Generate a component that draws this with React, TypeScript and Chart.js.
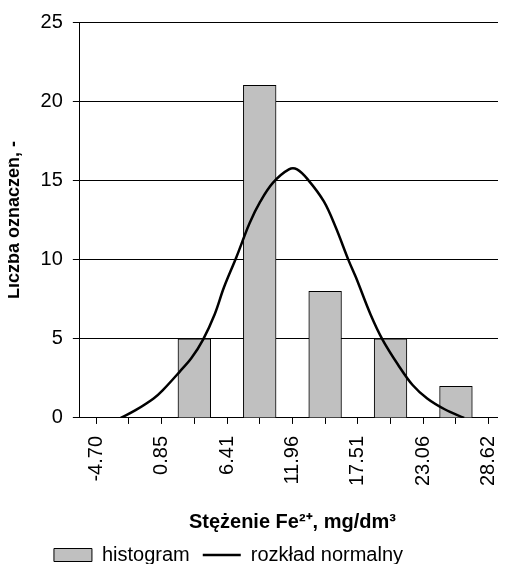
import React, { useEffect, useRef } from 'react';
import { Chart, registerables } from 'chart.js';

Chart.register(...registerables);

// Category (class) labels along the x axis – only every other one is printed
const categories = ['-4.70', '-1.92', '0.85', '3.63', '6.41', '9.18', '11.96', '14.73', '17.51', '20.29', '23.06', '25.84', '28.62'];
// Histogram counts per category (null = no bar)
const histogram = [null, null, null, 5, null, 21, null, 8, null, 5, null, 2, null];
// Normal distribution curve (concentration, count)
const curveX = [-4.70, -3.26, -1.51, -0.61, 1.03, 2.16, 3.29, 4.42, 5.32, 6.53, 7.80, 8.85, 10.06, 11.62, 12.41, 13.46, 15.01, 16.14, 17.41, 18.12, 19.53, 20.70, 22.21, 23.62, 25.04, 26.73, 28.62];
const curveY = [0, 0.49, 1.23, 1.76, 2.93, 3.78, 4.95, 6.55, 8.25, 10.16, 12.29, 13.67, 14.84, 15.69, 15.69, 15.05, 13.67, 12.07, 9.95, 8.88, 6.55, 4.95, 3.36, 2.08, 1.23, 0.55, 0];
const yMin = 0;
const yMax = 25;
const yStep = 5;

const FONT = "'Liberation Sans', Arial, sans-serif";

const noPad = (scale: any) => {
  scale.paddingLeft = 0;
  scale.paddingRight = 0;
};

export default function App() {
  const ref = useRef<HTMLCanvasElement | null>(null);

  useEffect(() => {
    if (!ref.current) return;
    const first = parseFloat(categories[0]);
    const last = parseFloat(categories[categories.length - 1]);
    const step = (last - first) / (categories.length - 1);

    const frame = {
      id: 'frame',
      afterDatasetsDraw(chart: any) {
        const { ctx, chartArea: a } = chart;
        ctx.save();
        ctx.strokeStyle = '#000';
        ctx.lineWidth = 1;
        ctx.beginPath();
        ctx.moveTo(a.left, Math.round(a.top) + 0.5);
        ctx.lineTo(Math.round(a.right) - 0.5, Math.round(a.top) + 0.5);
        ctx.lineTo(Math.round(a.right) - 0.5, a.bottom);
        ctx.stroke();
        ctx.restore();
      },
    };

    const chart = new Chart(ref.current, {
      type: 'bar',
      data: {
        labels: categories,
        datasets: [
          {
            type: 'bar',
            label: 'histogram',
            data: histogram as any,
            backgroundColor: '#c0c0c0',
            borderColor: '#000',
            borderWidth: 1,
            barPercentage: 1,
            categoryPercentage: 1,
            grouped: false,
            xAxisID: 'x',
            yAxisID: 'y',
            order: 2,
          },
          {
            type: 'line',
            label: 'rozkład normalny',
            data: curveX.map((x, i) => ({ x, y: curveY[i] })) as any,
            borderColor: '#000',
            backgroundColor: '#000',
            borderWidth: 2.5,
            pointRadius: 0,
            pointHoverRadius: 0,
            tension: 0.35,
            xAxisID: 'x2',
            yAxisID: 'y',
            order: 1,
          },
        ],
      },
      options: {
        animation: false,
        responsive: false,
        layout: { autoPadding: false, padding: { top: 18, right: 1, left: 3, bottom: 0 } },
        plugins: {
          tooltip: { enabled: false },
          legend: {
            position: 'bottom',
            maxHeight: 30,
            labels: {
              color: '#000',
              font: { family: FONT, size: 20 },
              usePointStyle: true,
              pointStyleWidth: 38,
              boxHeight: 13,
              padding: 3,
              generateLabels: (c: any) => {
                const items = c.data.datasets.map((ds: any, i: number) => ({
                  // an en space after the first label reproduces the gap between the two entries
                  text: i === 0 ? ds.label + '\u2002' : ds.label,
                  fillStyle: i === 0 ? '#c0c0c0' : '#000',
                  strokeStyle: '#000',
                  lineWidth: i === 0 ? 1 : 2.5,
                  pointStyle: i === 0 ? 'rect' : 'line',
                  datasetIndex: i,
                  hidden: false,
                  fontColor: '#000',
                }));
                // invisible spacer keeps the visible items left of centre, as in the original
                items.push({
                  text: '',
                  fillStyle: 'rgba(0,0,0,0)',
                  strokeStyle: 'rgba(0,0,0,0)',
                  lineWidth: 0,
                  pointStyle: 'line',
                  hidden: false,
                  fontColor: 'rgba(0,0,0,0)',
                });
                return items;
              },
            },
          },
        },
        scales: {
          x: {
            type: 'category',
            offset: true,
            grid: { offset: false, drawOnChartArea: false, drawTicks: true, tickLength: 6, color: '#000' },
            border: { color: '#000', width: 1 },
            ticks: {
              autoSkip: false,
              maxRotation: 90,
              minRotation: 90,
              padding: 12,
              color: '#000',
              font: { family: FONT, size: 20 },
              callback: (_v: any, i: number) => (i % 2 === 0 ? categories[i] : ''),
            },
            title: {
              display: true,
              text: 'Stężenie Fe²⁺, mg/dm³',
              color: '#000',
              font: { family: FONT, size: 20, weight: 'bold' },
              padding: { top: 12, bottom: 8 },
            },
            afterFit: noPad,
          },
          x2: {
            type: 'linear',
            display: false,
            min: first - step / 2,
            max: last + step / 2,
            ticks: { display: false },
            afterFit: noPad,
          },
          y: {
            min: yMin,
            max: yMax,
            ticks: { stepSize: yStep, color: '#000', padding: 10, font: { family: FONT, size: 20 } },
            grid: { color: '#000', tickLength: 7 },
            border: { color: '#000', width: 1 },
            title: {
              display: true,
              text: 'Liczba oznaczeń, -',
              color: '#000',
              font: { family: FONT, size: 18, weight: 'bold' },
              padding: { top: 0, bottom: 6 },
            },
          },
        },
      },
      plugins: [frame],
    });
    return () => chart.destroy();
  }, []);

  return (
    <div style={{ margin: -8, width: 506, height: 572, background: '#fff' }}>
      <canvas ref={ref} width={506} height={572} style={{ display: 'block' }} />
    </div>
  );
}
